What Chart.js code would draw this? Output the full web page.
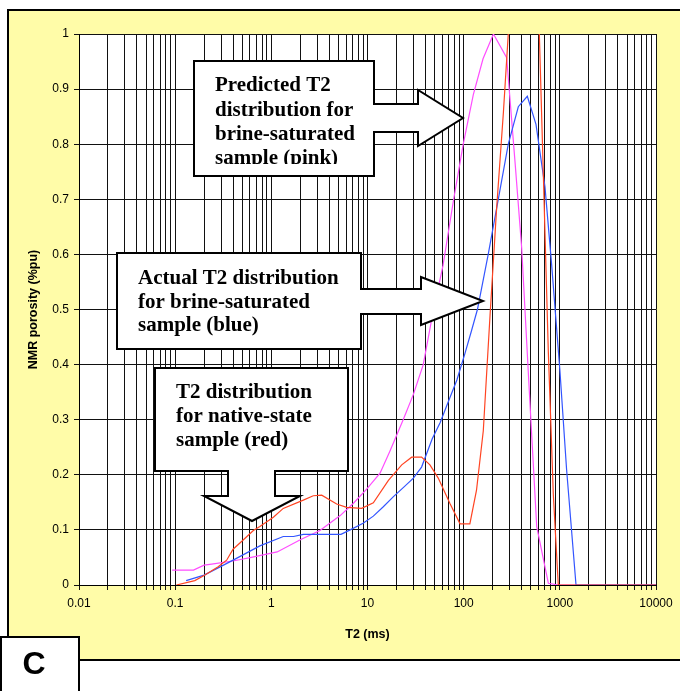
<!DOCTYPE html>
<html>
<head>
<meta charset="utf-8">
<script src="https://cdn.jsdelivr.net/npm/chart.js@4.4.1/dist/chart.umd.min.js"></script>
<style>
  html, body { margin: 0; padding: 0; background: #fff; }
  canvas { display: block; }
</style>
</head>
<body>
<canvas id="nmr" width="680" height="691"></canvas>
<script>
// T2 (ms) against NMR porosity, one pair per curve
var pinkT2  = [0.093, 0.155, 0.2, 0.24, 0.41, 0.62, 1.15, 2.0, 3.2, 5.2, 7.1, 9.8, 13.5, 17, 23.5, 30, 38, 48, 61, 78, 99, 126, 159, 204, 280, 342, 401, 490, 575, 760, 964, 10000];
var pinkPor = [0.027, 0.027, 0.036, 0.038, 0.044, 0.05, 0.06, 0.082, 0.099, 0.126, 0.148, 0.174, 0.203, 0.242, 0.30, 0.346, 0.40, 0.495, 0.58, 0.696, 0.80, 0.89, 0.955, 1.0, 0.957, 0.768, 0.612, 0.327, 0.106, 0.003, 0, 0];

var blueT2  = [0.13, 0.2, 0.41, 0.76, 1.33, 1.7, 2.15, 5.3, 6.6, 9, 11.5, 14.6, 18.5, 24, 30, 36.5, 47, 57, 70, 85, 103, 120, 139, 180, 229, 291, 370, 459, 565, 701, 823, 1000, 1175, 1473, 10000];
var bluePor = [0.008, 0.018, 0.046, 0.071, 0.088, 0.088, 0.092, 0.092, 0.1, 0.112, 0.125, 0.142, 0.16, 0.178, 0.194, 0.214, 0.265, 0.295, 0.335, 0.372, 0.42, 0.46, 0.5, 0.6, 0.7, 0.8, 0.868, 0.887, 0.836, 0.722, 0.58, 0.391, 0.21, 0, 0];

var redT2  = [0.103, 0.16, 0.204, 0.28, 0.343, 0.40, 0.49, 0.65, 0.76, 1.05, 1.33, 2.15, 2.73, 3.34, 4.78, 6.07, 8.7, 11.5, 16.5, 22.7, 28.8, 36.5, 44.6, 54.4, 72, 91.7, 116, 136, 160, 188, 220, 259, 291, 360, 470, 560, 612, 673, 759, 855, 964, 10000];
var redPor = [0, 0.008, 0.018, 0.033, 0.045, 0.065, 0.079, 0.099, 0.106, 0.123, 0.139, 0.154, 0.162, 0.163, 0.147, 0.141, 0.139, 0.149, 0.19, 0.218, 0.232, 0.232, 0.218, 0.194, 0.148, 0.111, 0.111, 0.172, 0.28, 0.489, 0.683, 0.858, 1.0, 1.25, 1.3, 1.2, 1.0, 0.748, 0.424, 0.165, 0, 0];

var xDecades    = [0.01, 0.1, 1, 10, 100, 1000, 10000];
var xTickLabels = ['0.01', '0.1', '1', '10', '100', '1000', '10000'];
var yTicks      = [0, 0.1, 0.2, 0.3, 0.4, 0.5, 0.6, 0.7, 0.8, 0.9, 1];
var yTickLabels = ['0', '0.1', '0.2', '0.3', '0.4', '0.5', '0.6', '0.7', '0.8', '0.9', '1'];

var SANS = '"Liberation Sans", Arial, sans-serif';
var SERIF = '"Liberation Serif", "Times New Roman", serif';

function pts(xs, ys) {
  return xs.map(function (x, i) { return { x: x, y: ys[i] }; });
}

// every 1..9 x 10^n line, like the spreadsheet log grid
function logTicks(scale) {
  var t = [];
  xDecades.forEach(function (d, i) {
    if (i === xDecades.length - 1) { t.push({ value: d }); return; }
    for (var m = 1; m < 10; m++) t.push({ value: +(m * d).toPrecision(6) });
  });
  scale.ticks = t;
}

// callout boxes pasted over the plot (pixel geometry)
var callouts = [
  { x: 194, y: 61, w: 180, h: 115, dir: 'right', s0: 104, s1: 132, end: 418, h0: 90, h1: 146, tip: [463, 118],
    tx: 215, base: [91, 115.5, 140, 164], clip: 164,
    lines: ['Predicted T2', 'distribution for', 'brine-saturated', 'sample (pink)'] },
  { x: 117, y: 253, w: 244, h: 96, dir: 'right', s0: 289, s1: 314, end: 421, h0: 277, h1: 325, tip: [483, 301],
    tx: 138, base: [283.5, 307.5, 331], clip: 348,
    lines: ['Actual T2 distribution', 'for brine-saturated', 'sample (blue)'] },
  { x: 155, y: 368, w: 193, h: 103, dir: 'down', s0: 228, s1: 275, end: 496, h0: 204, h1: 300, tip: [252, 521],
    tx: 176, base: [398, 422, 446], clip: 470,
    lines: ['T2 distribution', 'for native-state', 'sample (red)'] }
];

function calloutPath(ctx, c) {
  var r = c.x + c.w, b = c.y + c.h;
  ctx.beginPath();
  ctx.moveTo(c.x, c.y);
  ctx.lineTo(r, c.y);
  if (c.dir === 'right') {
    ctx.lineTo(r, c.s0); ctx.lineTo(c.end, c.s0); ctx.lineTo(c.end, c.h0);
    ctx.lineTo(c.tip[0], c.tip[1]);
    ctx.lineTo(c.end, c.h1); ctx.lineTo(c.end, c.s1); ctx.lineTo(r, c.s1);
    ctx.lineTo(r, b);
  } else {
    ctx.lineTo(r, b);
    ctx.lineTo(c.s1, b); ctx.lineTo(c.s1, c.end); ctx.lineTo(c.h1, c.end);
    ctx.lineTo(c.tip[0], c.tip[1]);
    ctx.lineTo(c.h0, c.end); ctx.lineTo(c.s0, c.end); ctx.lineTo(c.s0, b);
  }
  ctx.lineTo(c.x, b);
  ctx.closePath();
}

var backdrop = {
  id: 'backdrop',
  beforeDraw: function (chart) {
    var ctx = chart.ctx, a = chart.chartArea;
    ctx.save();
    ctx.fillStyle = '#fff';
    ctx.fillRect(0, 0, chart.width, chart.height);
    ctx.fillStyle = '#fffca8';
    ctx.fillRect(8, 10, chart.width, 650);
    ctx.strokeStyle = '#000';
    ctx.lineWidth = 2;
    ctx.strokeRect(8, 10, chart.width, 650);
    ctx.fillStyle = '#fff';
    ctx.fillRect(a.left, a.top, a.right - a.left, a.bottom - a.top);
    ctx.restore();
  },
  afterDatasetsDraw: function (chart) {
    var ctx = chart.ctx;
    callouts.forEach(function (c) {
      ctx.save();
      calloutPath(ctx, c);
      ctx.fillStyle = '#fff';
      ctx.fill();
      ctx.strokeStyle = '#000';
      ctx.lineWidth = 2;
      ctx.lineJoin = 'miter';
      ctx.stroke();
      ctx.beginPath();
      ctx.rect(c.x, c.y, c.w, c.clip - c.y);
      ctx.clip();
      ctx.fillStyle = '#000';
      ctx.font = 'bold 21px ' + SERIF;
      ctx.textBaseline = 'alphabetic';
      c.lines.forEach(function (t, i) { ctx.fillText(t, c.tx, c.base[i]); });
      ctx.restore();
    });
  },
  afterDraw: function (chart) {
    var ctx = chart.ctx;
    ctx.save();
    ctx.fillStyle = '#fff';
    ctx.fillRect(1, 637, 78, 60);
    ctx.strokeStyle = '#000';
    ctx.lineWidth = 2;
    ctx.strokeRect(1, 637, 78, 60);
    ctx.fillStyle = '#000';
    ctx.font = 'bold 32px ' + SANS;
    ctx.textAlign = 'center';
    ctx.textBaseline = 'middle';
    ctx.fillText('C', 34, 665);
    ctx.restore();
  }
};

function line(xs, ys, color) {
  return { data: pts(xs, ys), borderColor: color, borderWidth: 1.2, pointRadius: 0, tension: 0, fill: false };
}

new Chart(document.getElementById('nmr'), {
  type: 'line',
  data: {
    datasets: [
      line(redT2, redPor, '#ff4422'),
      line(blueT2, bluePor, '#3355ff'),
      line(pinkT2, pinkPor, '#ff4dff')
    ]
  },
  options: {
    responsive: false,
    animation: false,
    layout: { padding: { left: 0, top: 34, right: 24, bottom: 46 } },
    plugins: { legend: { display: false }, tooltip: { enabled: false } },
    scales: {
      x: {
        type: 'logarithmic', min: 0.01, max: 10000,
        afterBuildTicks: logTicks,
        afterFit: function (s) { s.height = 60; },
        grid: { color: '#111', lineWidth: 1, tickLength: 5 },
        border: { color: '#000', width: 1 },
        ticks: {
          autoSkip: false, maxRotation: 0, padding: 6, color: '#000',
          font: { family: SANS, size: 12 },
          callback: function (v) { var i = xDecades.indexOf(v); return i < 0 ? '' : xTickLabels[i]; }
        },
        title: { display: true, text: 'T2 (ms)', color: '#000', font: { family: SANS, size: 12.5, weight: 'bold' }, padding: { top: 4, bottom: 3 } }
      },
      y: {
        type: 'linear', min: 0, max: 1,
        afterBuildTicks: function (s) { s.ticks = yTicks.map(function (v) { return { value: v }; }); },
        afterFit: function (s) { s.width = 79; },
        grid: { color: '#111', lineWidth: 1, tickLength: 5 },
        border: { color: '#000', width: 1 },
        ticks: {
          padding: 5, color: '#000',
          font: { family: SANS, size: 12 },
          callback: function (v) { var i = yTicks.indexOf(v); return i < 0 ? '' : yTickLabels[i]; }
        },
        title: { display: true, text: 'NMR porosity (%pu)', color: '#000', font: { family: SANS, size: 12.5, weight: 'bold' }, padding: { top: 26, bottom: 0 } }
      }
    }
  },
  plugins: [backdrop]
});
</script>
</body>
</html>
